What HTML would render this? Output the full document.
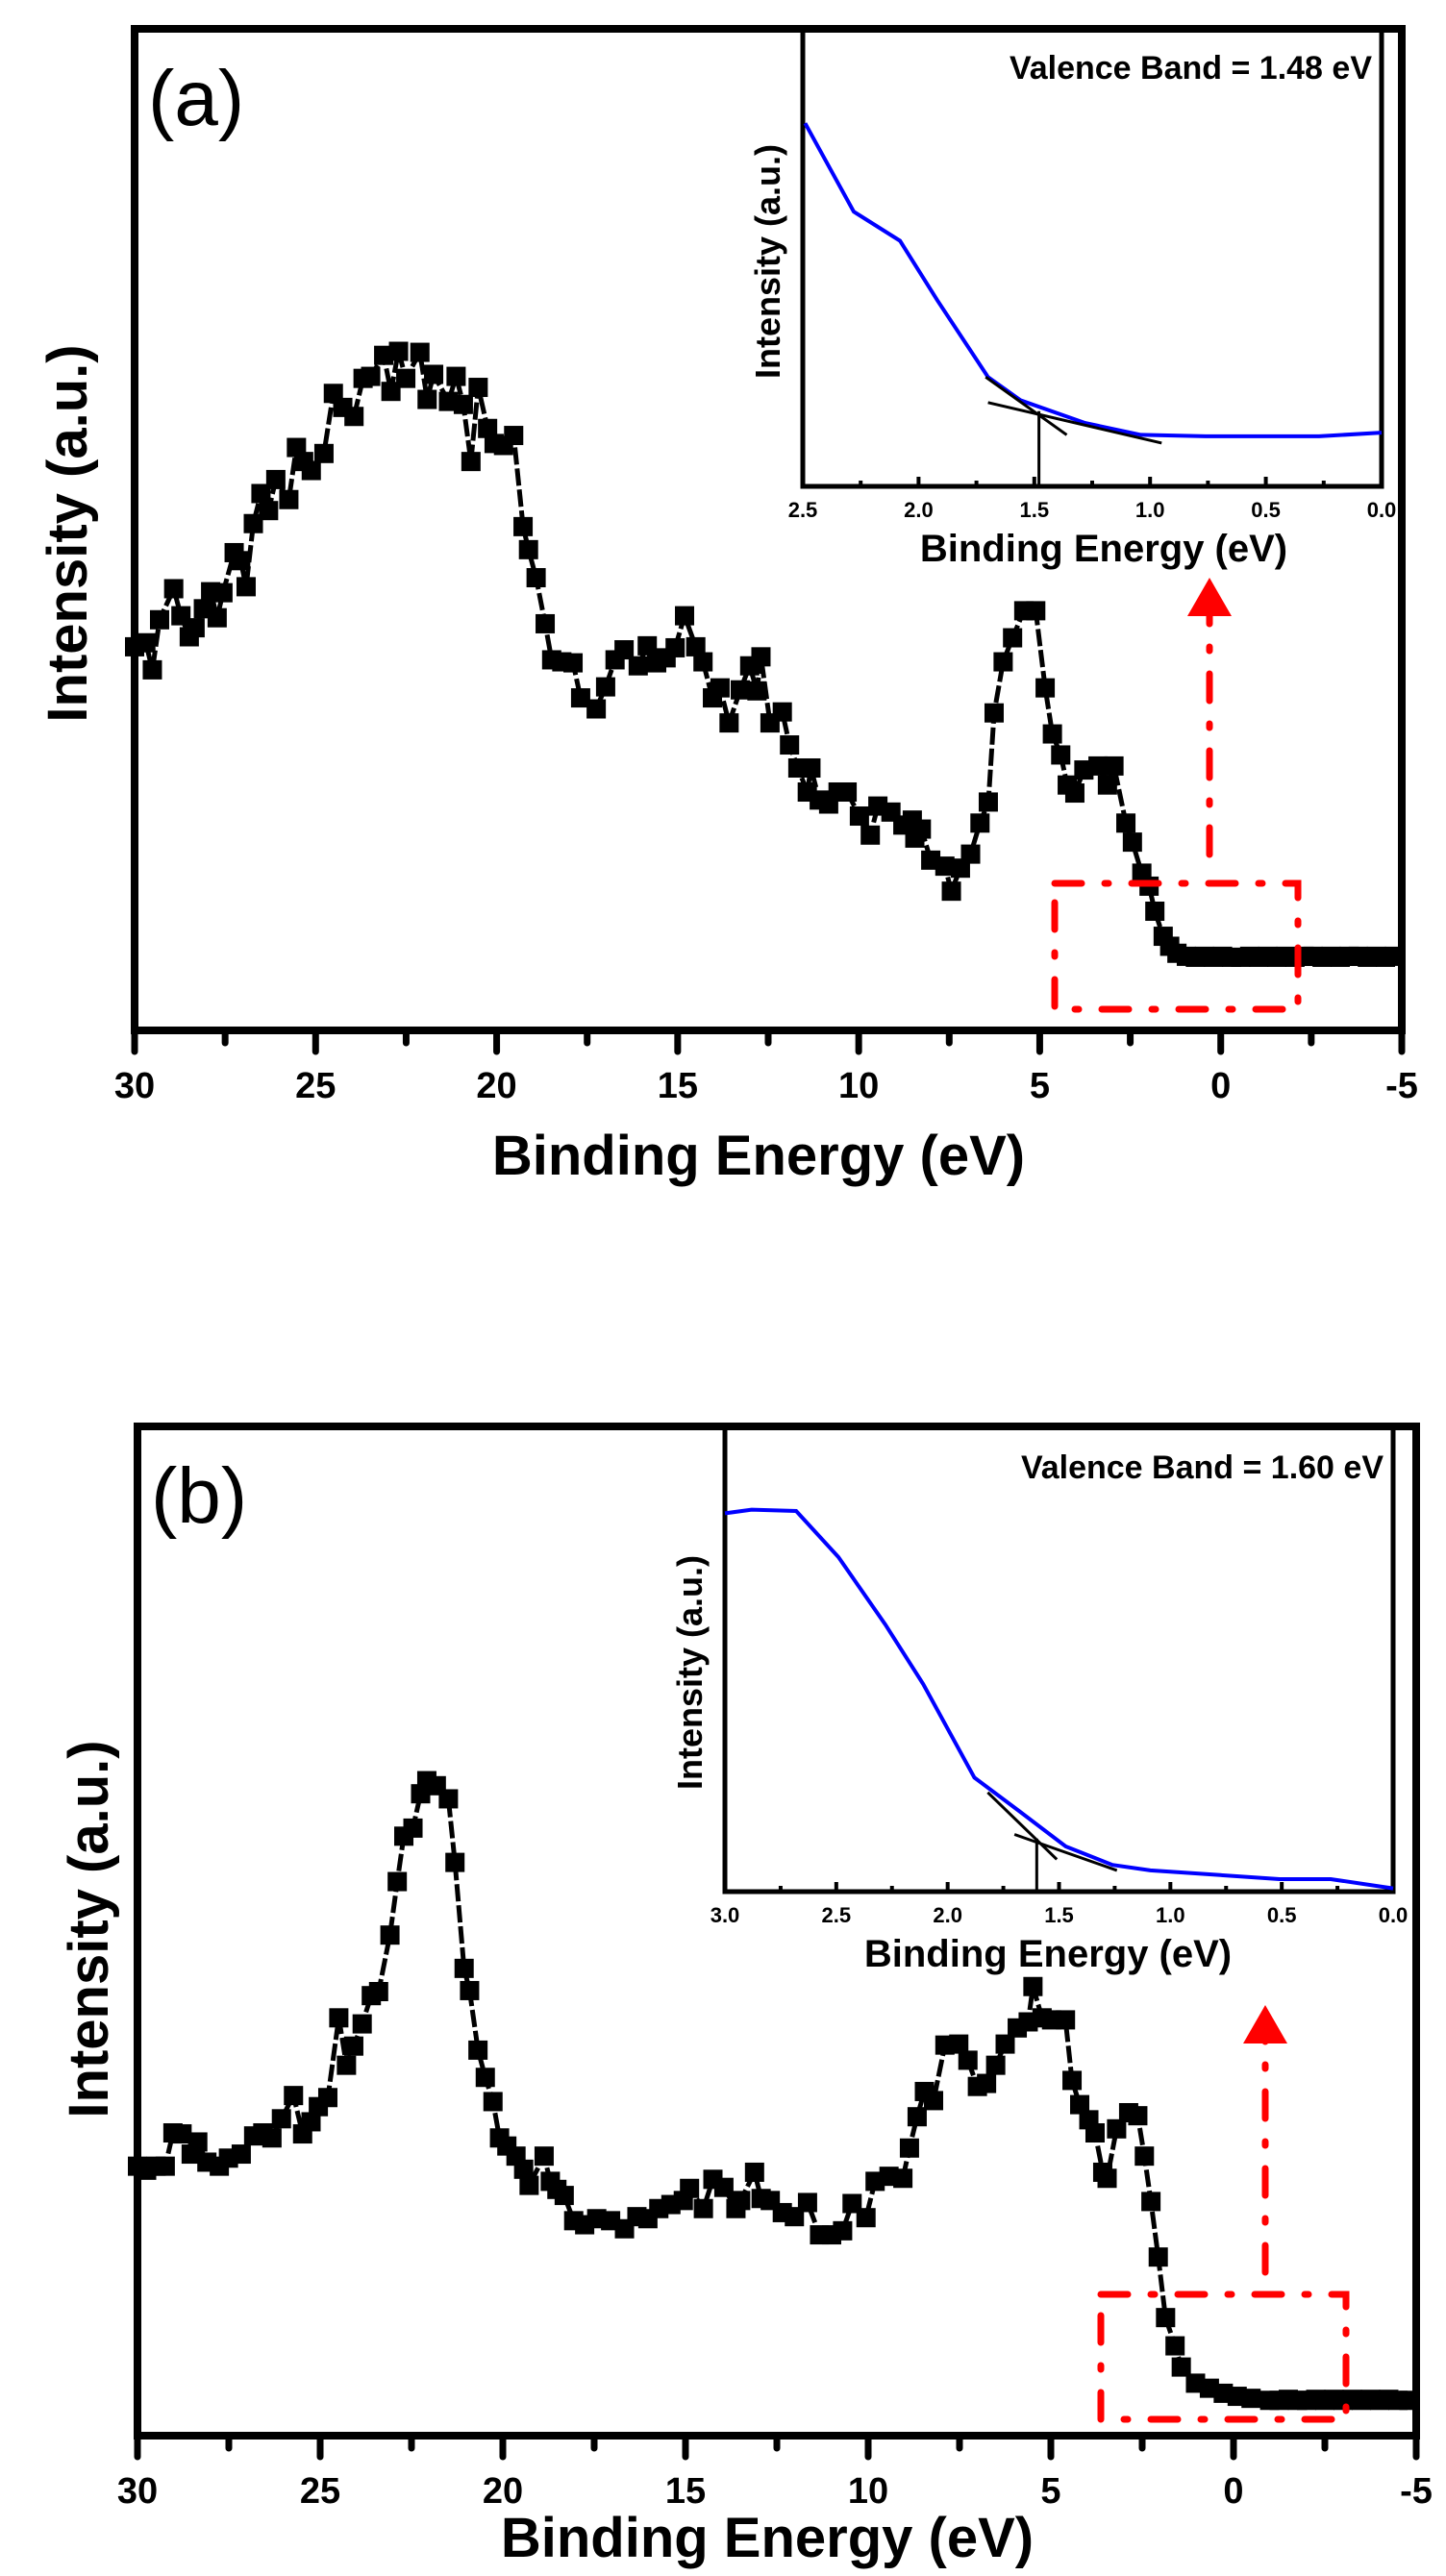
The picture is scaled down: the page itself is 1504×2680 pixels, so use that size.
<!DOCTYPE html>
<html><head><meta charset="utf-8"><style>
html,body{margin:0;padding:0;background:#fff;}
svg{display:block;}
text{font-family:"Liberation Sans","DejaVu Sans",sans-serif;}
</style></head>
<body>
<svg id="fig" width="1504" height="2680" viewBox="0 0 1504 2680" xmlns="http://www.w3.org/2000/svg">
<rect width="1504" height="2680" fill="#fff"/>
</svg>
<script>
// ---------- data ----------
const aEnergy=[30.0,29.69,29.51,29.31,28.92,28.72,28.49,28.33,28.10,27.90,27.72,27.56,27.25,27.07,26.92,26.72,26.51,26.30,26.10,25.74,25.53,25.33,25.12,24.77,24.51,24.25,23.94,23.69,23.48,23.12,22.92,22.71,22.51,22.12,21.92,21.74,21.33,21.12,20.92,20.71,20.51,20.25,20.07,19.81,19.53,19.27,19.12,18.91,18.66,18.48,18.20,17.89,17.68,17.25,16.99,16.73,16.48,16.09,15.84,15.58,15.32,15.07,14.81,14.50,14.30,14.04,13.83,13.58,13.27,13.01,12.81,12.70,12.45,12.11,11.91,11.68,11.42,11.32,11.09,10.83,10.57,10.32,9.98,9.68,9.47,9.11,8.78,8.52,8.45,8.27,8.01,7.62,7.44,7.19,6.91,6.65,6.42,6.26,6.01,5.75,5.44,5.11,4.85,4.65,4.42,4.24,4.03,3.78,3.39,3.13,2.95,2.62,2.44,2.18,1.98,1.82,1.59,1.41,1.21,0.95,0.7,0.45,0.2,-0.05,-0.3,-0.55,-0.8,-1.05,-1.3,-1.55,-1.8,-2.05,-2.3,-2.55,-2.8,-3.05,-3.3,-3.55,-3.8,-4.05,-4.3,-4.55,-4.8];
const aIntensity=[38.3,38.7,36.0,41.0,44.1,41.4,39.3,40.2,42.1,43.8,41.2,43.7,47.7,46.9,44.3,50.6,53.6,51.9,55.0,53.0,58.2,56.8,55.9,57.6,63.6,62.2,61.3,65.1,65.3,67.4,63.8,67.8,65.1,67.7,63.0,65.5,62.8,65.3,62.5,56.8,64.2,60.1,58.6,58.4,59.4,50.3,48.0,45.2,40.6,37.0,36.8,36.7,33.2,32.1,34.3,37.0,38.0,36.4,38.4,36.7,37.2,38.2,41.4,38.3,36.8,33.2,34.2,30.7,34.0,36.4,33.9,37.3,30.7,31.8,28.5,26.2,23.8,26.2,23.0,22.6,23.8,23.8,21.4,19.5,22.4,21.8,20.5,21.0,19.2,20.1,17.0,16.4,13.9,16.2,17.6,20.7,22.8,31.7,36.8,39.2,41.9,41.9,34.2,29.6,27.5,24.5,23.7,26.0,26.4,24.5,26.4,20.7,18.8,15.7,14.4,11.9,9.4,8.4,7.7,7.4,7.3,7.4,7.3,7.4,7.3,7.3,7.4,7.3,7.4,7.3,7.4,7.3,7.4,7.4,7.3,7.4,7.3,7.4,7.4,7.3,7.4,7.3,7.4];
const bEnergy=[30.0,29.75,29.49,29.24,29.03,28.78,28.53,28.35,28.10,27.76,27.51,27.16,26.82,26.57,26.32,26.06,25.73,25.48,25.25,25.05,24.79,24.49,24.28,24.08,23.85,23.60,23.40,23.09,22.89,22.71,22.46,22.25,22.08,21.82,21.49,21.31,21.06,20.91,20.68,20.48,20.27,20.09,19.89,19.64,19.43,19.28,18.87,18.70,18.52,18.32,18.06,17.76,17.43,17.05,16.67,16.33,16.03,15.73,15.40,15.06,14.89,14.51,14.25,13.95,13.62,13.49,13.11,12.93,12.68,12.35,12.02,11.66,11.33,11.00,10.70,10.44,10.06,9.81,9.43,9.05,8.87,8.66,8.46,8.21,7.90,7.52,7.27,7.01,6.76,6.51,6.25,5.92,5.62,5.49,5.24,4.98,4.60,4.42,4.21,3.96,3.79,3.58,3.46,3.20,2.87,2.62,2.44,2.26,2.06,1.86,1.60,1.43,1.04,0.66,0.28,-0.10,-0.48,-0.99,-1.25,-1.5,-1.75,-2.0,-2.25,-2.5,-2.75,-3.0,-3.25,-3.5,-3.75,-4.0,-4.25,-4.5,-4.8];
const bIntensity=[26.7,26.3,26.7,26.7,30.0,29.9,27.9,29.1,27.1,26.7,27.5,27.9,29.7,30.0,29.5,31.4,33.7,29.9,31.1,32.6,33.5,41.4,36.7,38.6,40.8,43.6,44.0,49.6,54.9,59.4,60.2,63.6,64.9,64.4,63.1,56.8,46.3,44.1,38.2,35.5,33.1,29.5,28.7,27.7,26.4,24.8,27.7,25.2,24.4,23.8,21.3,20.9,21.5,21.3,20.5,21.7,21.5,22.5,22.9,23.3,24.5,22.5,25.4,24.6,22.5,23.3,26.1,23.5,23.3,22.1,21.7,23.1,19.9,19.9,20.3,23.0,21.6,25.2,25.7,25.5,28.5,31.6,34.1,33.2,38.7,38.8,37.2,34.6,34.9,36.7,38.8,40.4,41.0,44.5,41.4,41.2,41.2,35.2,32.8,31.3,30.0,26.1,25.5,30.4,32.0,31.7,27.7,23.2,17.7,11.7,8.9,6.8,5.2,4.7,4.2,3.9,3.7,3.5,3.5,3.6,3.5,3.5,3.6,3.5,3.6,3.5,3.6,3.5,3.6,3.5,3.6,3.5,3.5];
const insetAEnergy=[2.49,2.28,2.08,1.92,1.70,1.56,1.28,1.04,0.76,0.27,0.0];
const insetAIntensity=[79.7,60.3,53.9,40.9,24.0,18.9,13.9,11.3,11.0,11.0,11.8];
const insetBEnergy=[3.0,2.88,2.68,2.49,2.28,2.11,1.88,1.68,1.47,1.26,1.09,0.84,0.51,0.28,0.0];
const insetBIntensity=[82.0,82.8,82.5,72.5,57.9,45.0,24.7,17.5,9.8,5.8,4.6,3.8,2.7,2.7,0.7];
const mainTicks=[30,25,20,15,10,5,0,-5];
const mainTickLabels=["30","25","20","15","10","5","0","-5"];
const insetATicks=[2.5,2.0,1.5,1.0,0.5,0.0];
const insetATickLabels=["2.5","2.0","1.5","1.0","0.5","0.0"];
const insetBTicks=[3.0,2.5,2.0,1.5,1.0,0.5,0.0];
const insetBTickLabels=["3.0","2.5","2.0","1.5","1.0","0.5","0.0"];
const valenceA=1.48, valenceB=1.60;

const NS="http://www.w3.org/2000/svg";
const svg=document.getElementById('fig');
function mk(tag,attrs,parent){const e=document.createElementNS(NS,tag);for(const k in attrs)e.setAttribute(k,attrs[k]);(parent||svg).appendChild(e);return e;}
function lin(d0,d1,p0,p1){return v=>p0+(v-d0)/(d1-d0)*(p1-p0);}

function panel(cfg){
  const g=mk('g',{});
  
  
  const X=lin(30,-5,cfg.x0,cfg.x1), Y=lin(0,100,cfg.yb,cfg.yt);
  const fr=mk('rect',{x:cfg.x0,y:cfg.yt,width:cfg.x1-cfg.x0,height:cfg.yb-cfg.yt,fill:'none',stroke:'#000','stroke-width':8},g);
  
  
  for(let v=30;v>=-5;v-=2.5){
    const major=Math.abs(v%5)<1e-6;
    const t=mk('line',{x1:X(v),x2:X(v),y1:cfg.yb,y2:cfg.yb+(major?22:13),stroke:'#000','stroke-width':7,'stroke-linecap':'round'},g);
    
    
  }
  mainTicks.forEach((v,i)=>{
    const t=mk('text',{x:X(v),y:cfg.yb+70,'text-anchor':'middle','font-size':38,'font-weight':'bold'},g);
    t.textContent=mainTickLabels[i];
    
    
  });
  const xl=mk('text',{x:(cfg.x0+cfg.x1)/2-10,y:cfg.xlabelY,'text-anchor':'middle','font-size':58,'font-weight':'bold'},g);
  xl.textContent='Binding Energy (eV)';
  
  
  const yl=mk('text',{x:0,y:0,'text-anchor':'middle','font-size':58,'font-weight':'bold',transform:`translate(${cfg.ylabelX},${cfg.ylabelY}) rotate(-90)`},g);
  yl.textContent='Intensity (a.u.)';
  
  
  const pl=mk('text',{x:cfg.x0+14,y:cfg.yt+100,'font-size':82},g);
  pl.textContent=cfg.letter;
  
  
  let d='';cfg.E.forEach((e,i)=>{d+=(i?'L':'M')+X(e).toFixed(1)+','+Y(cfg.I[i]).toFixed(1);});
  const ln=mk('path',{d:d,fill:'none',stroke:'#000','stroke-width':5,'stroke-dasharray':'18 4'},g);
  
  
  cfg.E.forEach((e,i)=>{
    const s=mk('rect',{x:X(e)-10,y:Y(cfg.I[i])-10,width:20,height:20,fill:'#000'},g);
    
    
  });
  const bx=mk('rect',{x:cfg.box[0],y:cfg.box[1],width:cfg.box[2],height:cfg.box[3],fill:'none',stroke:'#f00','stroke-width':7,'stroke-linecap':'round','stroke-dasharray':'28 24 4 24'},g);
  
  
  const ar=mk('line',{x1:cfg.arrow[0],x2:cfg.arrow[0],y1:cfg.arrow[1],y2:cfg.arrow[2]+30,stroke:'#f00','stroke-width':7,'stroke-linecap':'round','stroke-dasharray':'28 24 4 24'},g);
  
  
  const ah=mk('polygon',{points:`${cfg.arrow[0]-23},${cfg.arrow[2]+40} ${cfg.arrow[0]+23},${cfg.arrow[2]+40} ${cfg.arrow[0]},${cfg.arrow[2]}`,fill:'#f00'},g);
  
  
  const ins=cfg.inset;
  const ig=mk('g',{},g);
  
  
  const IX=lin(ins.dmax,0,ins.x0,ins.x1), IY=lin(0,100,ins.yb,ins.yt);
  const ifr=mk('path',{d:`M${ins.x0},${ins.yt}L${ins.x0},${ins.yb}L${ins.x1},${ins.yb}L${ins.x1},${ins.yt}`,fill:'none',stroke:'#000','stroke-width':5},ig);
  
  
  for(let v=ins.dmax;v>=-1e-6;v-=0.25){
    const major=Math.abs((v*2)-Math.round(v*2))<1e-6;
    const t=mk('line',{x1:IX(v),x2:IX(v),y1:ins.yb,y2:ins.yb-(major?10:6),stroke:'#000','stroke-width':4},ig);
    
    
  }
  ins.ticks.forEach((v,i)=>{
    const t=mk('text',{x:IX(v),y:ins.yb+32,'text-anchor':'middle','font-size':22,'font-weight':'bold'},ig);
    t.textContent=ins.labels[i];
    
    
  });
  const ixl=mk('text',{x:ins.xlx,y:ins.yb+78,'text-anchor':'middle','font-size':40,'font-weight':'bold'},ig);
  ixl.textContent='Binding Energy (eV)';
  
  
  const iyl=mk('text',{x:0,y:0,'text-anchor':'middle','font-size':36,'font-weight':'bold',transform:`translate(${ins.x0-24},${ins.ylY}) rotate(-90)`},ig);
  iyl.textContent='Intensity (a.u.)';
  
  
  const vt=mk('text',{x:ins.x1-10,y:ins.yt+50,'text-anchor':'end','font-size':34,'font-weight':'bold'},ig);
  vt.textContent=ins.title;
  
  
  let id='';ins.E.forEach((e,i)=>{id+=(i?'L':'M')+IX(e).toFixed(1)+','+IY(ins.I[i]).toFixed(1);});
  const bl=mk('path',{d:id,fill:'none',stroke:'#00f','stroke-width':4},ig);
  
  
  ins.tangents.forEach(tg=>{
    const t=mk('line',{x1:IX(tg[0]),y1:IY(tg[1]),x2:IX(tg[2]),y2:IY(tg[3]),stroke:'#000','stroke-width':3},ig);
    
    
  });
  const vl=mk('line',{x1:IX(ins.vb),x2:IX(ins.vb),y1:ins.yb,y2:IY(ins.vtop),stroke:'#000','stroke-width':3},ig);
  
  
}

panel({name:'panel-a',letter:'(a)',x0:140,x1:1458,yt:30,yb:1072,xlabelY:1222,ylabelX:90,ylabelY:555,E:aEnergy,I:aIntensity,
  box:[1097,919,253,131],arrow:[1258,889,601],
  inset:{x0:835,x1:1437,yt:32,yb:506,dmax:2.5,ticks:insetATicks,labels:insetATickLabels,xlx:1148,ylY:272,title:'Valence Band = 1.48 eV',
    E:insetAEnergy,I:insetAIntensity,vb:valenceA,vtop:16.5,tangents:[[1.71,24,1.36,11.3],[1.70,18.4,0.95,9.5]]}});
panel({name:'panel-b',letter:'(b)',x0:143,x1:1473,yt:1484,yb:2534,xlabelY:2660,ylabelX:112,ylabelY:2007,E:bEnergy,I:bIntensity,
  box:[1145,2387,255,130],arrow:[1316,2364,2086],
  inset:{x0:754,x1:1449,yt:1488,yb:1968,dmax:3.0,ticks:insetBTicks,labels:insetBTickLabels,xlx:1090,ylY:1740,title:'Valence Band = 1.60 eV',
    E:insetBEnergy,I:insetBIntensity,vb:valenceB,vtop:11.5,tangents:[[1.82,21.5,1.51,7],[1.70,12.4,1.24,4.6]]}});
</script>
</body></html>
